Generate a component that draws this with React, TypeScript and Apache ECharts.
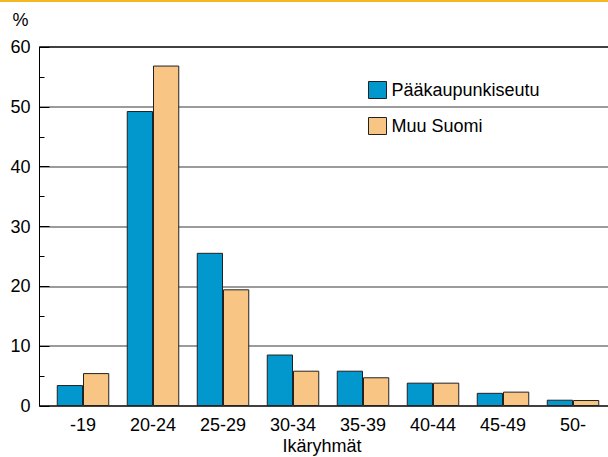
import React, { useEffect, useRef } from "react";
import * as echarts from "echarts";

const categories = ["-19", "20-24", "25-29", "30-34", "35-39", "40-44", "45-49", "50-"];
const seriesNames = ["Pääkaupunkiseutu", "Muu Suomi"];
const capitalRegion = [3.5, 49.3, 25.6, 8.6, 5.9, 3.9, 2.2, 1.05];
const restOfFinland = [5.5, 56.9, 19.5, 5.9, 4.8, 3.9, 2.4, 1.0];
const yTicks = { min: 0, max: 60, interval: 10 };
const xAxisTitle = "Ikäryhmät";
const yAxisTitle = "%";

const FONT = "'Liberation Sans', Arial, sans-serif";
const FS = 18;

export default function App() {
  const ref = useRef<HTMLDivElement>(null);
  useEffect(() => {
    if (!ref.current) return;
    const chart = echarts.init(ref.current, undefined, { renderer: "svg" });
    chart.setOption({
      animation: false,
      backgroundColor: "#fff",
      textStyle: { fontFamily: FONT },
      grid: [
        { left: 39.5, width: 572, top: 47, bottom: 51, containLabel: false },
        { left: 48, width: 563, top: 47, bottom: 51, containLabel: false },
      ],
      xAxis: [
        { gridIndex: 0, type: "value", min: 0, max: 1, show: false },
        {
          gridIndex: 1,
          type: "category",
          data: categories,
          axisLine: { show: false },
          axisTick: { show: false },
          axisLabel: { fontSize: FS, color: "#000", margin: 10, fontFamily: FONT },
        },
      ],
      yAxis: [
        {
          gridIndex: 0,
          type: "value",
          min: yTicks.min,
          max: yTicks.max,
          interval: yTicks.interval,
          axisLine: { show: true, lineStyle: { color: "#000", width: 1 } },
          axisTick: { show: true, inside: true, length: 10, lineStyle: { color: "#000" } },
          minorTick: { show: true, splitNumber: 2, length: 5, lineStyle: { color: "#000" } },
          axisLabel: { fontSize: FS, color: "#000", margin: 9, fontFamily: FONT },
          splitLine: {
            show: true,
            lineStyle: {
              color: ["#000", "#7a7a7a", "#7a7a7a", "#7a7a7a", "#7a7a7a", "#7a7a7a", "#000"],
              width: 1.5,
            },
          },
        },
        { gridIndex: 1, type: "value", min: yTicks.min, max: yTicks.max, show: false },
      ],
      legend: {
        orient: "vertical",
        left: 363,
        top: 76,
        itemWidth: 18,
        itemHeight: 17,
        itemGap: 18,
        icon: "rect",
        data: seriesNames,
        textStyle: { fontSize: FS, color: "#000", fontFamily: FONT },
        itemStyle: { borderColor: "#222", borderWidth: 1 },
      },
      series: [
        {
          name: seriesNames[0],
          type: "bar",
          xAxisIndex: 1,
          yAxisIndex: 1,
          data: capitalRegion,
          barGap: "0%",
          barCategoryGap: "25%",
          itemStyle: { color: "#0398CD", borderColor: "#222", borderWidth: 1 },
        },
        {
          name: seriesNames[1],
          type: "bar",
          xAxisIndex: 1,
          yAxisIndex: 1,
          data: restOfFinland,
          barGap: "0%",
          barCategoryGap: "25%",
          itemStyle: { color: "#F8C584", borderColor: "#222", borderWidth: 1 },
        },
      ],
      graphic: [
        { type: "rect", left: 0, top: 0, shape: { width: 608, height: 2 }, style: { fill: "#F5B820" } },
        {
          type: "text",
          x: 20.5,
          y: 20,
          style: { text: yAxisTitle, fill: "#000", font: `${FS}px ${FONT}`, align: "center", verticalAlign: "middle" },
        },
        {
          type: "text",
          x: 322,
          y: 446,
          style: { text: xAxisTitle, fill: "#000", font: `${FS}px ${FONT}`, align: "center", verticalAlign: "middle" },
        },
      ],
    });
    return () => chart.dispose();
  }, []);
  return (
    <div
      ref={ref}
      style={{ position: "fixed", left: 0, top: 0, width: 608, height: 457 }}
    />
  );
}
